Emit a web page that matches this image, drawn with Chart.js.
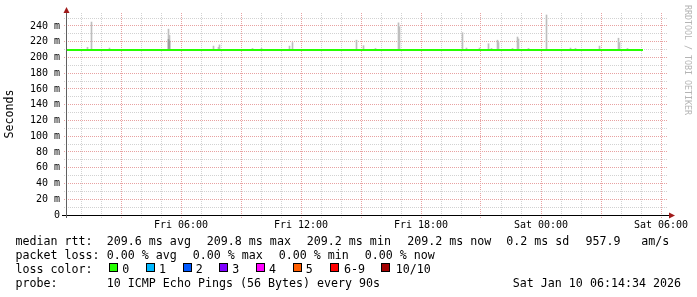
<!DOCTYPE html>
<html><head><meta charset="utf-8">
<script src="https://cdn.jsdelivr.net/npm/chart.js@4/dist/chart.umd.min.js"></script>
<style>
html,body{margin:0;padding:0;background:#fff;}
#wrap{position:relative;width:697px;height:297px;overflow:hidden;background:#fff;}
#c{position:absolute;left:0;top:0;}
.t{position:absolute;font-family:'DejaVu Sans Mono',monospace;font-size:11.65px;line-height:14px;color:#000;white-space:pre;}
.b{position:absolute;width:7px;height:7px;border:1px solid #000;top:263px;}
#wm{position:absolute;left:683px;top:5px;font-family:'DejaVu Sans Mono',monospace;font-size:8.3px;line-height:10px;color:#b4b4b4;writing-mode:vertical-rl;white-space:pre;}
</style></head><body>
<div id="wrap">
<canvas id="c" width="697" height="297"></canvas>
<div id="wm">RRDTOOL / TOBI OETIKER</div>
<div class="t" style="left:15.5px;top:234.3px">median rtt:</div>
<div class="t" style="left:106.8px;top:234.3px">209.6 ms avg</div>
<div class="t" style="left:206.8px;top:234.3px">209.8 ms max</div>
<div class="t" style="left:306.8px;top:234.3px">209.2 ms min</div>
<div class="t" style="left:407.2px;top:234.3px">209.2 ms now</div>
<div class="t" style="left:506.2px;top:234.3px">0.2 ms sd</div>
<div class="t" style="left:585.5px;top:234.3px">957.9</div>
<div class="t" style="left:641.2px;top:234.3px">am/s</div>
<div class="t" style="left:15.5px;top:248.3px">packet loss:</div>
<div class="t" style="left:106.8px;top:248.3px">0.00 % avg</div>
<div class="t" style="left:192.8px;top:248.3px">0.00 % max</div>
<div class="t" style="left:278.8px;top:248.3px">0.00 % min</div>
<div class="t" style="left:364.8px;top:248.3px">0.00 % now</div>
<div class="t" style="left:15.5px;top:262.3px">loss color:</div>
<div class="b" style="left:109px;background:#26ff00"></div><div class="t" style="left:122.3px;top:262.3px">0</div>
<div class="b" style="left:146px;background:#00b8ff"></div><div class="t" style="left:159px;top:262.3px">1</div>
<div class="b" style="left:183px;background:#0059ff"></div><div class="t" style="left:195.7px;top:262.3px">2</div>
<div class="b" style="left:219px;background:#7e00ff"></div><div class="t" style="left:232.3px;top:262.3px">3</div>
<div class="b" style="left:256px;background:#ff00ff"></div><div class="t" style="left:269px;top:262.3px">4</div>
<div class="b" style="left:293px;background:#ff5e00"></div><div class="t" style="left:305.7px;top:262.3px">5</div>
<div class="b" style="left:330px;background:#ff0000"></div><div class="t" style="left:344px;top:262.3px">6-9</div>
<div class="b" style="left:381px;background:#a10000"></div><div class="t" style="left:395.7px;top:262.3px">10/10</div>
<div class="t" style="left:15.5px;top:276.3px">probe:</div>
<div class="t" style="left:106.8px;top:276.3px">10 ICMP Echo Pings (56 Bytes) every 90s</div>
<div class="t" style="left:512.8px;top:276.3px">Sat Jan 10 06:14:34 2026</div>
</div>
<script>
// ---- data (x values are minutes since Fri 00:00) ----
const medianTimes = [18, 180, 360, 540, 720, 900, 1080, 1260, 1440, 1620, 1746];
const medianRtt   = [209.5, 209.5, 209.5, 209.5, 209.5, 209.5, 209.5, 209.5, 209.5, 209.5, 209.5];

const smokeBase = 209.5;
const smokeTimes = [79.5, 91.5, 145.5, 322.5, 325.5, 457.5, 472.5, 475.5, 574.5, 601.5,
                    685.5, 694.5, 886.5, 907.5, 943.5, 1012.5, 1015.5, 1204.5, 1216.5, 1255.5,
                    1282.5, 1291.5, 1309.5, 1312.5, 1354.5, 1369.5, 1372.5, 1402.5, 1456.5, 1528.5,
                    1543.5, 1615.5, 1672.5, 1675.5, 1699.5];
const smokeTops  = [213, 245, 212, 236, 228, 214.5, 213, 216, 211.5, 211.5,
                    214.5, 219, 222, 215, 211.5, 244, 239, 231.5, 212, 212,
                    217.5, 211.5, 222, 219, 211.5, 226, 223.5, 211.5, 254, 212,
                    211.5, 214.5, 224.5, 219, 211.5];
const darkSmokeTimes = [322.5, 325.5];
const darkSmokeTops  = [223, 221];

const xLabelMinutes = [360, 720, 1080, 1440, 1800];
const xLabels = ['Fri 06:00', 'Fri 12:00', 'Fri 18:00', 'Sat 00:00', 'Sat 06:00'];
const yLabelValues = [0, 20, 40, 60, 80, 100, 120, 140, 160, 180, 200, 220, 240];
const yLabels = ['0', '20 m', '40 m', '60 m', '80 m', '100 m', '120 m', '140 m', '160 m', '180 m', '200 m', '220 m', '240 m'];

// ---- styling ----
const FONT = "'DejaVu Sans Mono', monospace";
const minorGrid = 'rgb(210,210,210)';
const majorGrid = 'rgb(232,162,162)';
const xGridLines = []; for (let m = 60; m <= 1800; m += 60) xGridLines.push(m);
const yGridLines = []; for (let v = 10; v <= 250; v += 10) yGridLines.push(v);

// dotted RRDtool-style grid drawn from the scales' own pixel mapping
const gridPlugin = {
  id: 'rrdGrid',
  beforeDatasetsDraw(chart) {
    const {ctx, chartArea: a, scales: {x, y}} = chart;
    ctx.save();
    const L = Math.round(a.left), R = Math.round(a.right), T = Math.round(a.top), B = Math.round(a.bottom);
    xGridLines.forEach(v => {
      const px = Math.round(x.getPixelForValue(v) - 0.5);
      ctx.fillStyle = (v % 180 === 0) ? majorGrid : minorGrid;
      for (let py = T; py < B + 3; py += 2) ctx.fillRect(px, py, 1, 1);
    });
    yGridLines.forEach(v => {
      const py = Math.round(y.getPixelForValue(v) - 0.5);
      ctx.fillStyle = (v % 20 === 0) ? majorGrid : minorGrid;
      for (let px = L - 3; px < R; px += 2) ctx.fillRect(px, py, 1, 1);
    });
    ctx.restore();
  }
};

const axesPlugin = {
  id: 'rrdAxes',
  afterDraw(chart) {
    const {ctx, chartArea: a} = chart;
    const xa = a.left - 0.5, ya = a.bottom + 0.5;
    ctx.save();
    ctx.lineWidth = 1;
    ctx.strokeStyle = '#000';
    ctx.beginPath(); ctx.moveTo(a.left - 5, ya); ctx.lineTo(a.right + 3, ya); ctx.stroke();
    ctx.strokeStyle = '#606060';
    ctx.beginPath(); ctx.moveTo(xa, a.top - 4); ctx.lineTo(xa, a.bottom + 3); ctx.stroke();
    ctx.fillStyle = '#a01a1a';
    ctx.beginPath(); ctx.moveTo(xa - 3, a.top); ctx.lineTo(xa + 3, a.top); ctx.lineTo(xa, a.top - 6); ctx.closePath(); ctx.fill();
    ctx.beginPath(); ctx.moveTo(a.right + 2, ya - 3); ctx.lineTo(a.right + 2, ya + 3); ctx.lineTo(a.right + 8, ya); ctx.closePath(); ctx.fill();
    ctx.restore();
  }
};

new Chart(document.getElementById('c'), {
  type: 'bar',
  data: {
    datasets: [
      {
        type: 'line', label: 'median rtt', order: 0,
        data: medianTimes.map((t, i) => ({x: t, y: medianRtt[i]})),
        borderColor: '#26ff00', borderWidth: 2, pointRadius: 0, tension: 0, fill: false, borderCapStyle: 'butt'
      },
      {
        type: 'bar', label: 'smoke dark', order: 1,
        data: darkSmokeTimes.map((t, i) => ({x: t, y: [smokeBase, darkSmokeTops[i]]})),
        backgroundColor: '#9c9c9c', barThickness: 1, borderWidth: 0, grouped: false
      },
      {
        type: 'bar', label: 'smoke', order: 2,
        data: smokeTimes.map((t, i) => ({x: t, y: [smokeBase, smokeTops[i]]})),
        backgroundColor: '#bebebe', barThickness: 1, borderWidth: 0, grouped: false
      }
    ]
  },
  options: {
    responsive: false, animation: false, devicePixelRatio: 1,
    layout: {padding: {top: 13, right: 30, bottom: 62, left: 0}},
    plugins: {legend: {display: false}, tooltip: {enabled: false}},
    scales: {
      x: {
        type: 'linear', min: 18, max: 1818, offset: false,
        afterBuildTicks: (s) => { s.ticks = xGridLines.map(v => ({value: v})); },
        afterFit: (s) => { s.height = 20; },
        grid: {display: false, drawTicks: false},
        border: {display: false},
        ticks: {
          autoSkip: false, maxRotation: 0, minRotation: 0, padding: 4, color: '#000',
          font: {family: FONT, size: 10},
          callback: (v) => { const i = xLabelMinutes.indexOf(v); return i >= 0 ? xLabels[i] : ''; }
        }
      },
      y: {
        type: 'linear', min: 0, max: 256.5,
        afterBuildTicks: (s) => { s.ticks = [0].concat(yGridLines).map(v => ({value: v})); },
        afterFit: (s) => { s.width = 67; },
        grid: {display: false, drawTicks: false},
        border: {display: false},
        ticks: {
          autoSkip: false, padding: 7, color: '#000',
          font: {family: FONT, size: 10},
          callback: (v) => { const i = yLabelValues.indexOf(v); return i >= 0 ? yLabels[i] : ''; }
        },
        title: {display: true, text: 'Seconds', color: '#000', font: {family: FONT, size: 11.65}, padding: {top: 3, bottom: 0}}
      }
    }
  },
  plugins: [gridPlugin, axesPlugin]
});
</script>
</body></html>
